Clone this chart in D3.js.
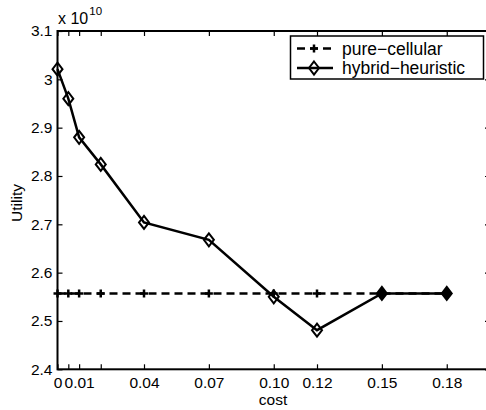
<!DOCTYPE html>
<html>
<head>
  <title>Utility vs cost</title>
  <script src="https://d3js.org/d3.v7.min.js"></script>
  <style>
    body { margin: 0; background: #fff; }
    text { font-family: "Liberation Sans", Arial, sans-serif; fill: #000; }
  </style>
</head>
<body>
<script type="text/javascript">
  // data (utility in units of 1e10)
  var costs = [0, 0.005, 0.01, 0.02, 0.04, 0.07, 0.10, 0.12, 0.15, 0.18];
  var costLabels = ["0", "", "0.01", "", "0.04", "0.07", "0.10", "0.12", "0.15", "0.18"];
  var pureCellular = [2.557, 2.557, 2.557, 2.557, 2.557, 2.557, 2.557, 2.557, 2.557, 2.557];
  var hybridHeuristic = [3.021, 2.960, 2.880, 2.824, 2.704, 2.668, 2.550, 2.481, 2.557, 2.557];
  var utilityTicks = [2.4, 2.5, 2.6, 2.7, 2.8, 2.9, 3, 3.1];
  var seriesNames = ["pure\u2212cellular", "hybrid\u2212heuristic"];

  var w = 486;
  var h = 410;
  var axLeft = 57.5, axRight = 490, axTop = 31, axBottom = 369.3;

  var svg = d3.select("body").append("svg")
    .attr("width", w)
    .attr("height", h);

  svg.append("rect").attr("width", w).attr("height", h).attr("fill", "#fff");

  var x = d3.scaleLinear().domain([0, 0.2]).range([axLeft, axRight]);
  var y = d3.scaleLinear().domain([2.4, 3.1]).range([axBottom, axTop]);

  function styleAxis(g, showText) {
    g.select(".domain").remove();
    g.selectAll(".tick line").attr("stroke", "#000").attr("stroke-width", 1.2);
    g.selectAll(".tick text").attr("font-size", "15.5px")
      .style("font-family", "'Liberation Sans', Arial, sans-serif");
    if (!showText) g.selectAll(".tick text").remove();
  }

  svg.append("g").attr("transform", "translate(0," + axBottom + ")")
    .call(d3.axisBottom(x).tickValues(costs).tickSizeInner(-5).tickSizeOuter(0)
      .tickPadding(8).tickFormat(function(d, i){ return costLabels[i]; }))
    .call(styleAxis, true);

  svg.append("g").attr("transform", "translate(0," + axTop + ")")
    .call(d3.axisTop(x).tickValues(costs).tickSizeInner(-5).tickSizeOuter(0))
    .call(styleAxis, false);

  svg.append("g").attr("transform", "translate(" + axLeft + ",0)")
    .call(d3.axisLeft(y).tickValues(utilityTicks).tickSizeInner(-5).tickSizeOuter(0)
      .tickPadding(5).tickFormat(function(d){ return String(d); }))
    .call(styleAxis, true);

  svg.append("g").attr("transform", "translate(" + axRight + ",0)")
    .call(d3.axisRight(y).tickValues(utilityTicks).tickSizeInner(-5).tickSizeOuter(0))
    .call(styleAxis, false);

  // axes box
  svg.append("rect")
    .attr("x", axLeft).attr("y", axTop)
    .attr("width", axRight - axLeft).attr("height", axBottom - axTop)
    .attr("fill", "none").attr("stroke", "#000").attr("stroke-width", 2);

  // exponent
  var expo = svg.append("text").attr("x", 58).attr("y", 24).attr("font-size", "16px");
  expo.append("tspan").text("x 10");
  expo.append("tspan").attr("font-size", "11.5px").attr("dy", -9).attr("dx", 1).text("10");

  // axis titles
  svg.append("text").attr("x", 273).attr("y", 405)
    .attr("text-anchor", "middle").attr("font-size", "15.5px").text("cost");
  svg.append("text")
    .attr("transform", "translate(22,203) rotate(-90)")
    .attr("text-anchor", "middle").attr("font-size", "15.5px").text("Utility");

  var line = d3.line()
    .x(function(d, i){ return x(costs[i]); })
    .y(function(d){ return y(d); });

  var plusPath = "M-4,0H4M0,-4V4";
  var diamondPath = "M0,-6.5L5,0L0,6.5L-5,0Z";

  // pure-cellular
  svg.append("path").datum(pureCellular)
    .attr("d", line).attr("fill", "none").attr("stroke", "#000")
    .attr("stroke-width", 2.5).attr("stroke-dasharray", "8,5");
  svg.selectAll(".plus").data(pureCellular).enter().append("path")
    .attr("class", "plus")
    .attr("d", plusPath)
    .attr("transform", function(d, i){ return "translate(" + x(costs[i]) + "," + y(d) + ")"; })
    .attr("fill", "none").attr("stroke", "#000").attr("stroke-width", 2.5);

  // hybrid-heuristic
  svg.append("path").datum(hybridHeuristic)
    .attr("d", line).attr("fill", "none").attr("stroke", "#000")
    .attr("stroke-width", 2.5);
  svg.selectAll(".diamond").data(hybridHeuristic).enter().append("path")
    .attr("class", "diamond")
    .attr("d", diamondPath)
    .attr("transform", function(d, i){ return "translate(" + x(costs[i]) + "," + y(d) + ")"; })
    .attr("fill", function(d, i){
      return Math.abs(d - pureCellular[i]) < 0.004 ? "#000" : "none";
    })
    .attr("stroke", "#000").attr("stroke-width", 2);

  // legend
  var lg = svg.append("g");
  lg.append("rect").attr("x", 290.5).attr("y", 36).attr("width", 193).attr("height", 43)
    .attr("fill", "#fff").attr("stroke", "#000").attr("stroke-width", 1.5);
  var rows = [48.5, 68];
  lg.append("line").attr("x1", 297).attr("x2", 333).attr("y1", rows[0]).attr("y2", rows[0])
    .attr("stroke", "#000").attr("stroke-width", 2.5).attr("stroke-dasharray", "8,5");
  lg.append("path").attr("d", plusPath).attr("transform", "translate(314," + rows[0] + ")")
    .attr("fill", "none").attr("stroke", "#000").attr("stroke-width", 2.5);
  lg.append("line").attr("x1", 297).attr("x2", 333).attr("y1", rows[1]).attr("y2", rows[1])
    .attr("stroke", "#000").attr("stroke-width", 2.5);
  lg.append("path").attr("d", diamondPath).attr("transform", "translate(314," + rows[1] + ")")
    .attr("fill", "none").attr("stroke", "#000").attr("stroke-width", 2);
  lg.selectAll(".ltext").data(seriesNames).enter().append("text")
    .attr("class", "ltext")
    .attr("x", 342).attr("y", function(d, i){ return rows[i] + 6; })
    .attr("font-size", "17.5px").text(function(d){ return d; });
</script>
</body>
</html>
